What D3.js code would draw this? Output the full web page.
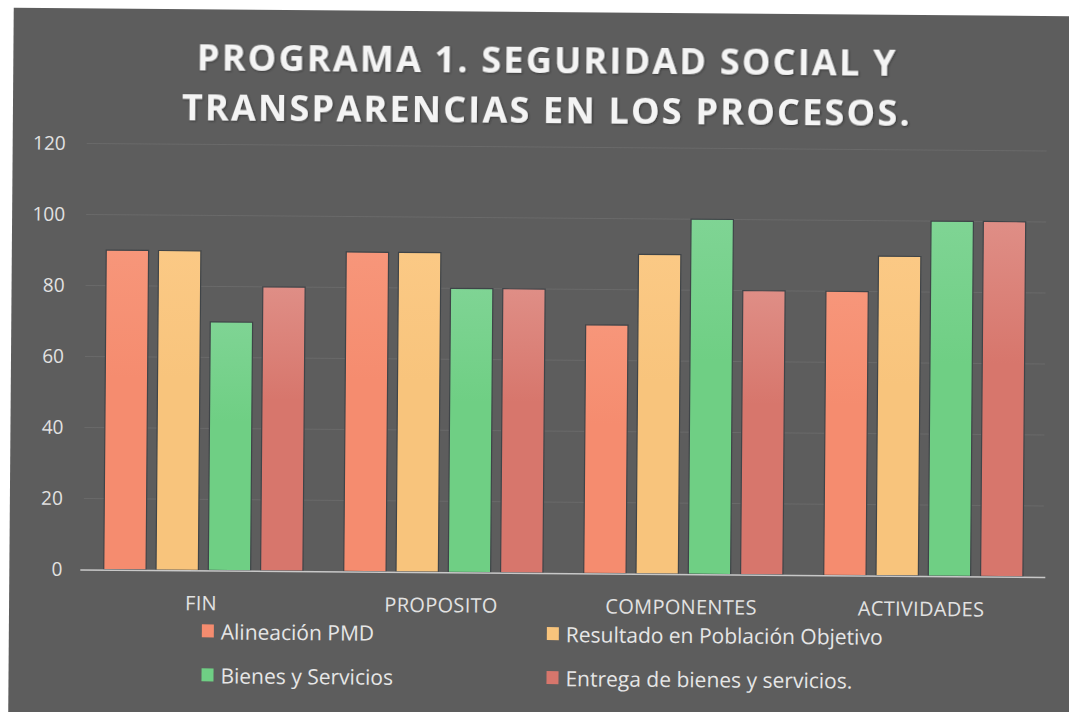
<!DOCTYPE html>
<html><head><meta charset="utf-8">
<script src="https://cdn.jsdelivr.net/npm/d3@7"></script>
<style>
html,body{margin:0;padding:0;background:#ffffff;}
svg{display:block;}
</style></head>
<body>
<svg id="chart" width="1069" height="712"></svg>
<script>
const categories = ["FIN", "PROPOSITO", "COMPONENTES", "ACTIVIDADES"];
const seriesNames = ["Alineación PMD", "Resultado en Población Objetivo", "Bienes y Servicios", "Entrega de bienes y servicios."];
const alineacion = [90, 90, 70, 80];
const resultado  = [90, 90, 90, 90];
const bienes     = [70, 80, 100, 100];
const entrega    = [80, 80, 80, 100];
const yTicks = [0, 20, 40, 60, 80, 100, 120];
const titleLines = ["PROGRAMA 1. SEGURIDAD SOCIAL Y", "TRANSPARENCIAS EN LOS PROCESOS."];

const seriesValues = [alineacion, resultado, bienes, entrega];
const colors = ["#f58c6f", "#f8c47c", "#6fcf84", "#d7766c"];
const colorsTop = ["#f7967a", "#fbc985", "#7fd494", "#df8e86"];

const svg = d3.select("#chart");
const W = 1069, H = 712;

const defs = svg.append("defs");
colors.forEach((c, i) => {
  const g = defs.append("linearGradient").attr("id", "grad" + i)
    .attr("x1", 0).attr("y1", 0).attr("x2", 0).attr("y2", 1);
  g.append("stop").attr("offset", "0%").attr("stop-color", colorsTop[i]);
  g.append("stop").attr("offset", "40%").attr("stop-color", c);
  g.append("stop").attr("offset", "100%").attr("stop-color", c);
});
const shadow = defs.append("filter").attr("id", "tshadow").attr("x", "-5%").attr("y", "-20%").attr("width", "110%").attr("height", "140%");
shadow.append("feDropShadow").attr("dx", 1).attr("dy", 1).attr("stdDeviation", 1).attr("flood-color", "#222").attr("flood-opacity", 0.6);

const root = svg.append("g").attr("transform", "rotate(0.45 540 360)");

root.append("rect").attr("x", 11).attr("y", 12).attr("width", W + 20).attr("height", H + 10)
  .attr("fill", "#5d5d5d");

const x0 = d3.scaleBand().domain(categories).range([85, 1045]).paddingInner(0.17).paddingOuter(0.085);
const x1 = d3.scaleBand().domain(d3.range(4)).range([0, x0.bandwidth()]).paddingInner(0.19).paddingOuter(0);
const y = d3.scaleLinear().domain([0, 120]).range([573, 147]);

// gridlines
root.append("g").selectAll("line").data(yTicks.filter(d => d > 0)).join("line")
  .attr("x1", 85).attr("x2", 1045)
  .attr("y1", d => y(d)).attr("y2", d => y(d))
  .attr("stroke", "#6a6a6a").attr("stroke-width", 1);

// y axis
const yAxis = d3.axisLeft(y).tickValues(yTicks).tickSize(0).tickPadding(0);
const ya = root.append("g").attr("transform", "translate(64,0)").call(yAxis);
ya.select(".domain").remove();
ya.selectAll("text").attr("fill", "#e2e2e2").attr("font-family", "Open Sans, sans-serif")
  .attr("font-size", 19).attr("text-anchor", "end");

// bars
const groups = root.append("g").selectAll("g").data(categories).join("g")
  .attr("transform", d => `translate(${x0(d)},0)`);
groups.selectAll("rect").data((d, ci) => seriesValues.map((s, si) => ({si, v: s[ci]}))).join("rect")
  .attr("x", d => x1(d.si)).attr("width", x1.bandwidth())
  .attr("y", d => y(d.v)).attr("height", d => y(0) - y(d.v))
  .attr("fill", d => `url(#grad${d.si})`)
  .attr("stroke", "#3f4448").attr("stroke-width", 1.2);

// baseline
root.append("line").attr("x1", 82).attr("x2", 1047).attr("y1", y(0) + 0.5).attr("y2", y(0) + 0.5)
  .attr("stroke", "#c8c8c8").attr("stroke-width", 1.5);

// x axis labels
const xAxis = d3.axisBottom(x0).tickSize(0).tickPadding(0);
const xa = root.append("g").attr("transform", `translate(-2,${y(0) + 40})`).call(xAxis);
xa.select(".domain").remove();
xa.selectAll("text").attr("fill", "#e2e2e2").attr("font-family", "Open Sans, sans-serif")
  .attr("font-size", 20).attr("letter-spacing", 0.3).attr("dy", 0);

// title
root.append("g").selectAll("text").data(titleLines).join("text")
  .attr("x", 545).attr("y", (d, i) => 73 + i * 50)
  .attr("text-anchor", "middle").attr("fill", "#f4f4f4")
  .attr("font-family", "Open Sans, sans-serif").attr("font-weight", "bold")
  .attr("font-size", 36).attr("letter-spacing", 2.2)
  .attr("filter", "url(#tshadow)")
  .text(d => d);

// legend
const legPos = [[204, 642], [549, 642], [204, 686], [549, 686]];
const leg = root.append("g").selectAll("g").data(seriesNames).join("g")
  .attr("transform", (d, i) => `translate(${legPos[i][0]},${legPos[i][1]})`);
leg.append("rect").attr("x", 0).attr("y", -15).attr("width", 12).attr("height", 13)
  .attr("fill", (d, i) => colors[i]);
leg.append("text").attr("x", 19).attr("y", 0).attr("fill", "#e6e6e6")
  .attr("font-family", "Open Sans, sans-serif").attr("font-size", 21).text(d => d);
</script>
</body></html>
